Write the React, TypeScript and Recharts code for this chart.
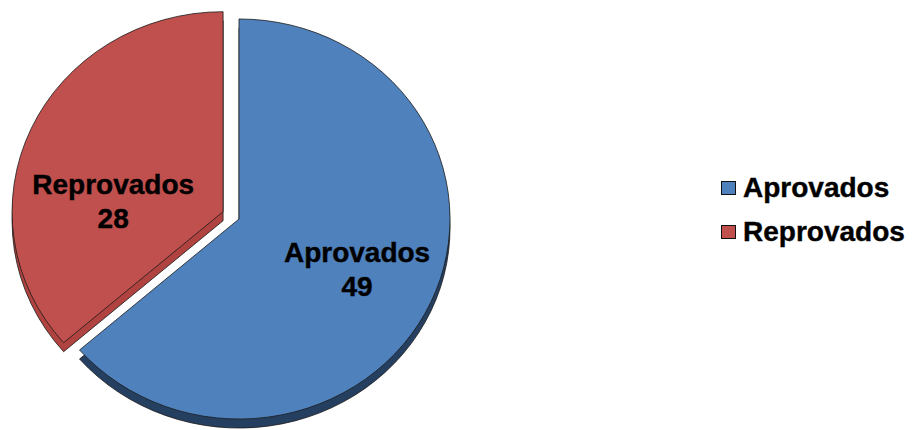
import React from 'react';
import { PieChart, Pie, Cell, Legend } from 'recharts';

// ---- data ----
const categories: string[] = ['Aprovados', 'Reprovados'];
const values: number[] = [49, 28];

// ---- styles ----
const colors: string[] = ['#4F81BD', '#C0504D'];
const depthColors: string[] = ['#253F60', '#B0433F'];
const EXPLODE: Record<string, number> = { Reprovados: 17.5 };
const LABEL_TWEAK: Record<string, { dAngle: number; radius: number }> = {
  Aprovados: { dAngle: 0, radius: 0.615 },
  Reprovados: { dAngle: 19.3, radius: 0.523 },
};
const RY_RATIO = 0.948;
const DEPTH = 9;
const FONT = '"Liberation Sans", Arial, Helvetica, sans-serif';
const RAD = Math.PI / 180;

const data = categories.map((name, i) => ({ name, value: values[i] }));

function ellPath(cx: number, cy: number, rx: number, ry: number, sa: number, ea: number) {
  const x1 = cx + rx * Math.cos(sa * RAD);
  const y1 = cy - ry * Math.sin(sa * RAD);
  const x2 = cx + rx * Math.cos(ea * RAD);
  const y2 = cy - ry * Math.sin(ea * RAD);
  const large = Math.abs(sa - ea) > 180 ? 1 : 0;
  const sweep = sa > ea ? 1 : 0;
  return `M${cx},${cy} L${x1},${y1} A${rx},${ry} 0 ${large} ${sweep} ${x2},${y2} Z`;
}

function centerFor(props: any) {
  const { cx, cy, midAngle } = props;
  const nm = props.name ?? props.payload?.name;
  const off = EXPLODE[nm] || 0;
  return {
    ox: cx + off * Math.cos(midAngle * RAD),
    oy: cy - off * Math.sin(midAngle * RAD),
    nm,
  };
}

const renderSector = (props: any) => {
  const { outerRadius, startAngle, endAngle } = props;
  const { ox, oy, nm } = centerFor(props);
  const idx = categories.indexOf(nm);
  const rx = outerRadius;
  const ry = outerRadius * RY_RATIO;
  return (
    <g>
      <path
        d={ellPath(ox, oy + DEPTH, rx, ry, startAngle, endAngle)}
        fill={depthColors[idx]}
        stroke="#1b1b1b"
        strokeWidth={0.8}
      />
      <path
        d={ellPath(ox, oy, rx, ry, startAngle, endAngle)}
        fill={colors[idx]}
        stroke="#1b1b1b"
        strokeWidth={0.8}
      />
    </g>
  );
};

const renderLabel = (props: any) => {
  const { outerRadius, midAngle, value } = props;
  const { ox, oy, nm } = centerFor(props);
  const tw = LABEL_TWEAK[nm] || { dAngle: 0, radius: 0.6 };
  const a = (midAngle + tw.dAngle) * RAD;
  const x = ox + tw.radius * outerRadius * Math.cos(a);
  const y = oy - tw.radius * outerRadius * RY_RATIO * Math.sin(a);
  return (
    <text
      x={x}
      y={y - 8}
      textAnchor="middle"
      fontSize={28}
      fontWeight="bold"
      fontFamily={FONT}
      fill="#000"
      stroke="#000"
      strokeWidth={0.4}
    >
      <tspan x={x} y={y - 8}>{nm}</tspan>
      <tspan x={x} y={y + 26}>{value}</tspan>
    </text>
  );
};

const renderLegend = () => (
  <div style={{ fontFamily: FONT, fontWeight: 'bold', fontSize: 28, WebkitTextStroke: '0.4px #000' }}>
    {categories.map((c, i) => (
      <div key={c} style={{ display: 'flex', alignItems: 'center', height: 44, lineHeight: '44px' }}>
        <span
          style={{
            display: 'inline-block',
            width: 13,
            height: 12,
            background: colors[i],
            border: '1.5px solid #111',
            marginRight: 7,
            WebkitTextStroke: '0px',
          }}
        />
        <span style={{ color: '#000', whiteSpace: 'nowrap' }}>{c}</span>
      </div>
    ))}
  </div>
);

export default function App() {
  return (
    <div style={{ position: 'absolute', left: 0, top: 0, width: 914, height: 430, background: '#fff' }}>
      <PieChart width={914} height={430} margin={{ top: 0, right: 0, bottom: 0, left: 0 }}>
        <Pie
          data={data}
          dataKey="value"
          nameKey="name"
          cx={239}
          cy={219}
          outerRadius={211}
          startAngle={90}
          endAngle={-270}
          isAnimationActive={false}
          stroke="none"
          shape={renderSector}
          activeShape={renderSector}
          inactiveShape={renderSector}
          label={renderLabel}
          labelLine={false}
        >
          {data.map((d, i) => (
            <Cell key={d.name} fill={colors[i]} />
          ))}
        </Pie>
        <Legend
          content={renderLegend}
          wrapperStyle={{ position: 'absolute', left: 721, top: 166, width: 190, height: 88 }}
        />
      </PieChart>
    </div>
  );
}
